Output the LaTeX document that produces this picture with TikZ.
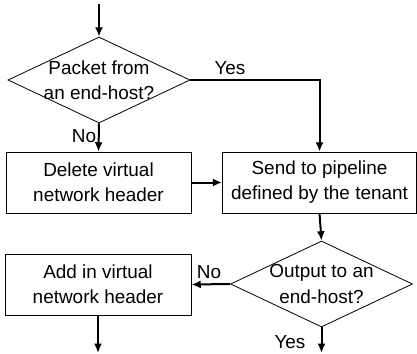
\documentclass[tikz,border=0pt]{standalone}
\usepackage{fontspec}
\setmainfont{Liberation Sans}
\usetikzlibrary{shapes.geometric,arrows.meta}
\begin{document}
\begin{tikzpicture}[x=0.75pt,y=-0.75pt,
  every node/.style={font=\fontsize{14.2pt}{18.8pt}\selectfont},
  stepbox/.style={draw,line width=0.6pt,inner sep=0pt,align=center,
    minimum width=185*0.75pt,minimum height=61*0.75pt},
  decision/.style={draw,diamond,line width=0.6pt,inner sep=0pt,
    minimum width=182*0.75pt,minimum height=86*0.75pt},
  flow/.style={line width=1.5pt,-{Latex[length=7pt,width=6pt]}},
  tag/.style={inner sep=0pt}]
\useasboundingbox (0,0) rectangle (417,353);
% decisions
\node[decision,label={[align=center]center:Packet from\\an end-host?}] (d1) at (99,80) {};
\node[decision,label={[align=center]center:Output to an\\end-host?}] (d2) at (321.5,284) {};
% processing steps
\node[stepbox] (del) at (98.5,182.5) {Delete virtual\\network header};
\node[stepbox,minimum width=194*0.75pt] (send) at (319.5,182.5) {Send to pipeline\\defined by the tenant};
\node[stepbox,minimum width=186*0.75pt] (add) at (98,284.5) {Add in virtual\\network header};
% loose ends
\coordinate (in) at (99,4);
\coordinate (out1) at (98,353);
\coordinate (out2) at (321.5,353);
% connectors
\draw[flow] (in) -- (d1.north);
\draw[flow] (d1.south) -- (del.north);
\draw[flow] (d1.east) -| (send.north);
\draw[flow] (del.east) -- (send.west);
\draw[flow] (send.south) -- (d2.north);
\draw[flow] (d2.west) -- (add.east);
\draw[flow] (add.south) -- (out1);
\draw[flow] (d2.south) -- (out2);
% branch labels
\node[tag] (yes1) at (230,68) {Yes};
\node[tag] (no1) at (84,136) {No};
\node[tag] (no2) at (209,272) {No};
\node[tag] (yes2) at (290,342) {Yes};
\end{tikzpicture}
\end{document}
